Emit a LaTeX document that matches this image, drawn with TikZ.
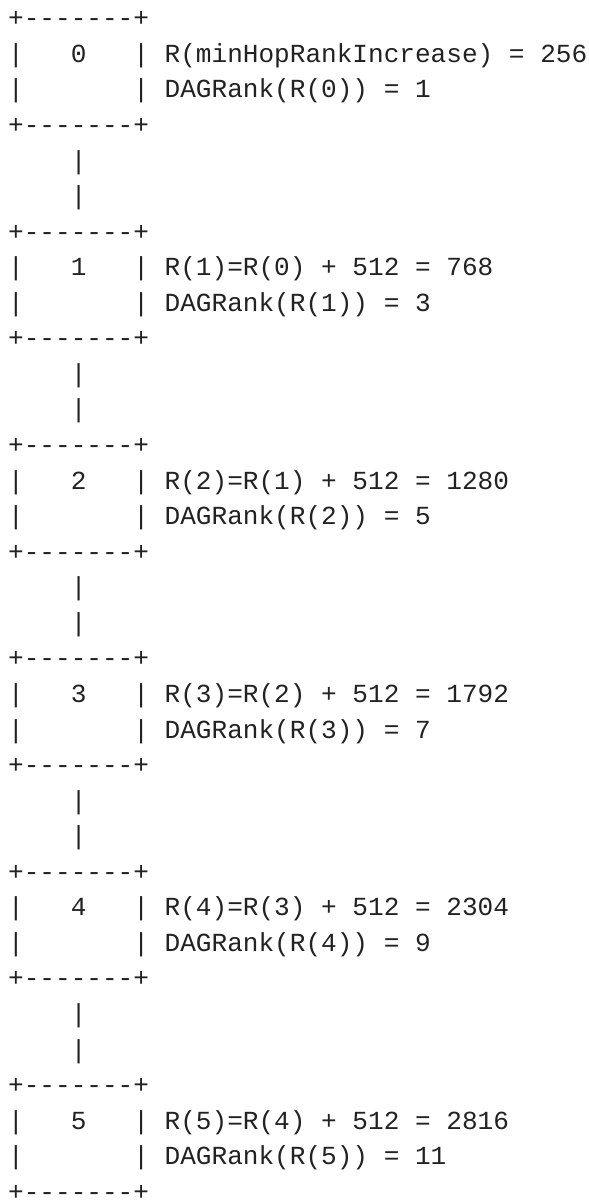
\documentclass[tikz,border=0pt]{standalone}
\usepackage{fontspec}
\setmonofont{Liberation Mono}
\definecolor{txt}{HTML}{222222}
\tikzset{
  asc/.style={anchor=base west, inner sep=0pt, outer sep=0pt,
    font=\ttfamily\fontsize{26.08pt}{35.56pt}\selectfont, text=txt},
}
\def\cx{15.65pt}
\def\ry{35.56pt}
\def\xo{8.2pt}
\def\yo{26.8pt}
\begin{document}
\begin{tikzpicture}
\useasboundingbox (0pt,0pt) rectangle (589pt,-1203pt);
\foreach \i in {0,...,5}{
  \pgfmathtruncatemacro\r{6*\i}
  \pgfmathtruncatemacro\p{\i-1}
  \pgfmathtruncatemacro\val{256+512*\i}
  \pgfmathtruncatemacro\dag{2*\i+1}
  % box outline rows
  \node[asc] (top\i) at ({\xo},{-\yo-\r*\ry}) {+-------+};
  \node[asc] (la\i) at ({\xo},{-\yo-(\r+1)*\ry}) {|};
  \node[asc] (num\i) at ({\xo+4*\cx},{-\yo-(\r+1)*\ry}) {\i};
  \node[asc] (ra\i) at ({\xo+8*\cx},{-\yo-(\r+1)*\ry}) {|};
  \node[asc] (lb\i) at ({\xo},{-\yo-(\r+2)*\ry}) {|};
  \node[asc] (rb\i) at ({\xo+8*\cx},{-\yo-(\r+2)*\ry}) {|};
  \node[asc] (bot\i) at ({\xo},{-\yo-(\r+3)*\ry}) {+-------+};
  % labels
  \ifnum\i=0
    \node[asc] (rv\i) at ({\xo+10*\cx},{-\yo-(\r+1)*\ry}) {R(minHopRankIncrease) = 256};
  \else
    \node[asc] (rv\i) at ({\xo+10*\cx},{-\yo-(\r+1)*\ry}) {R(\i)=R(\p) + 512 = \val};
  \fi
  \node[asc] (dg\i) at ({\xo+10*\cx},{-\yo-(\r+2)*\ry}) {DAGRank(R(\i)) = \dag};
  % connector rows
  \ifnum\i<5
    \node[asc] (ca\i) at ({\xo+4*\cx},{-\yo-(\r+4)*\ry}) {|};
    \node[asc] (cb\i) at ({\xo+4*\cx},{-\yo-(\r+5)*\ry}) {|};
  \fi
}
\end{tikzpicture}
\end{document}
